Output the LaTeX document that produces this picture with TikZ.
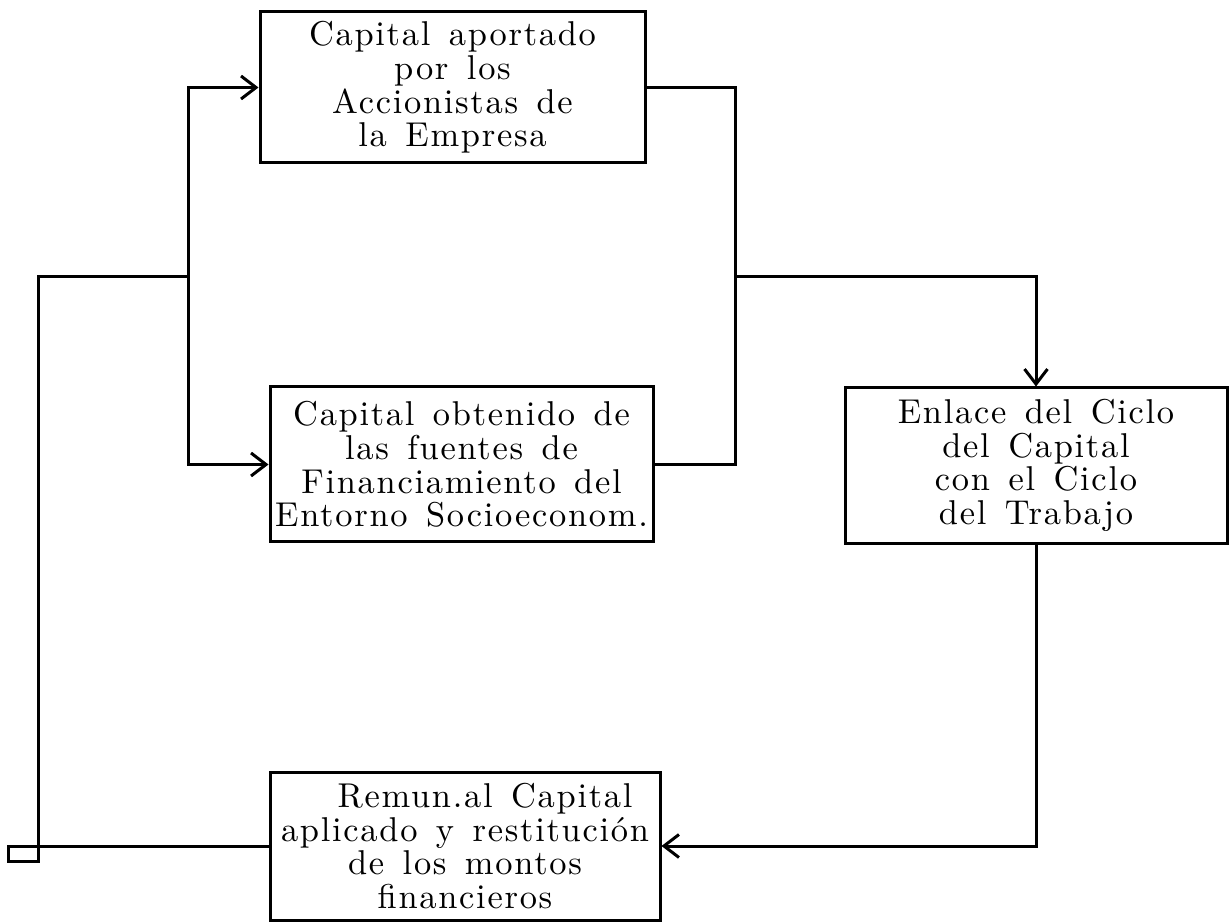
\documentclass[tikz,border=0pt]{standalone}
\usepackage{fontspec}
\setmainfont{Latin Modern Roman}[LetterSpace=5, WordSpace=1.4]
\usetikzlibrary{arrows.meta}
\tikzset{
	caja/.style={draw, line width=0.3mm, align=center, inner sep=0pt, font=\fontsize{9.8}{9.6}\selectfont},
	linea/.style={line width=0.3mm},
	flecha/.style={line width=0.3mm, -{Straight Barb[length=1.5mm, width=2.3mm]}},
}
\begin{document}
\begin{tikzpicture}
			%%%%% START %%%%%
			\useasboundingbox (0, 0) rectangle (12.29, 9.23);
			
			\node[caja, minimum width=3.85cm, minimum height=1.51cm] (aportado) at (4.525, 8.355) {Capital aportado\\por los\\Accionistas de\\la Empresa};
			\node[caja, minimum width=3.83cm, minimum height=1.55cm] (obtenido) at (4.615, 4.585) {Capital obtenido de\\las fuentes de\\Financiamiento del\\Entorno Socioeconom.};
			
			\node[caja, minimum width=3.82cm, minimum height=1.55cm] (enlace) at (10.36, 4.575) {Enlace del Ciclo\\del Capital\\con el Ciclo\\del Trabajo};
			\node[caja, minimum width=3.90cm, minimum height=1.48cm] (remun) at (4.65, 0.77) {\hspace*{0.4cm}Remun.al Capital\\aplicado y restitución\\de los montos\\financieros};
			
			\coordinate (izq) at (1.88, 6.46);
			\coordinate (der) at (7.35, 6.46);
			\coordinate (borde) at (0.38, 6.46);
			
			\draw[flecha] (izq) |- (aportado.west);
			\draw[flecha] (izq) |- (obtenido.west);
			\draw[linea] (aportado.east) -| (der);
			\draw[linea] (obtenido.east) -| (der);
			\draw[flecha] (der) -| (enlace.north);
			
			\draw[flecha] (enlace.south) |- (remun.east);
			\draw[linea] (remun.west) -| (borde) -- (izq);
			\draw[linea] (remun.west -| borde) rectangle ++(-0.30, -0.15);
			%%%%% END %%%%%
\end{tikzpicture}
\end{document}
